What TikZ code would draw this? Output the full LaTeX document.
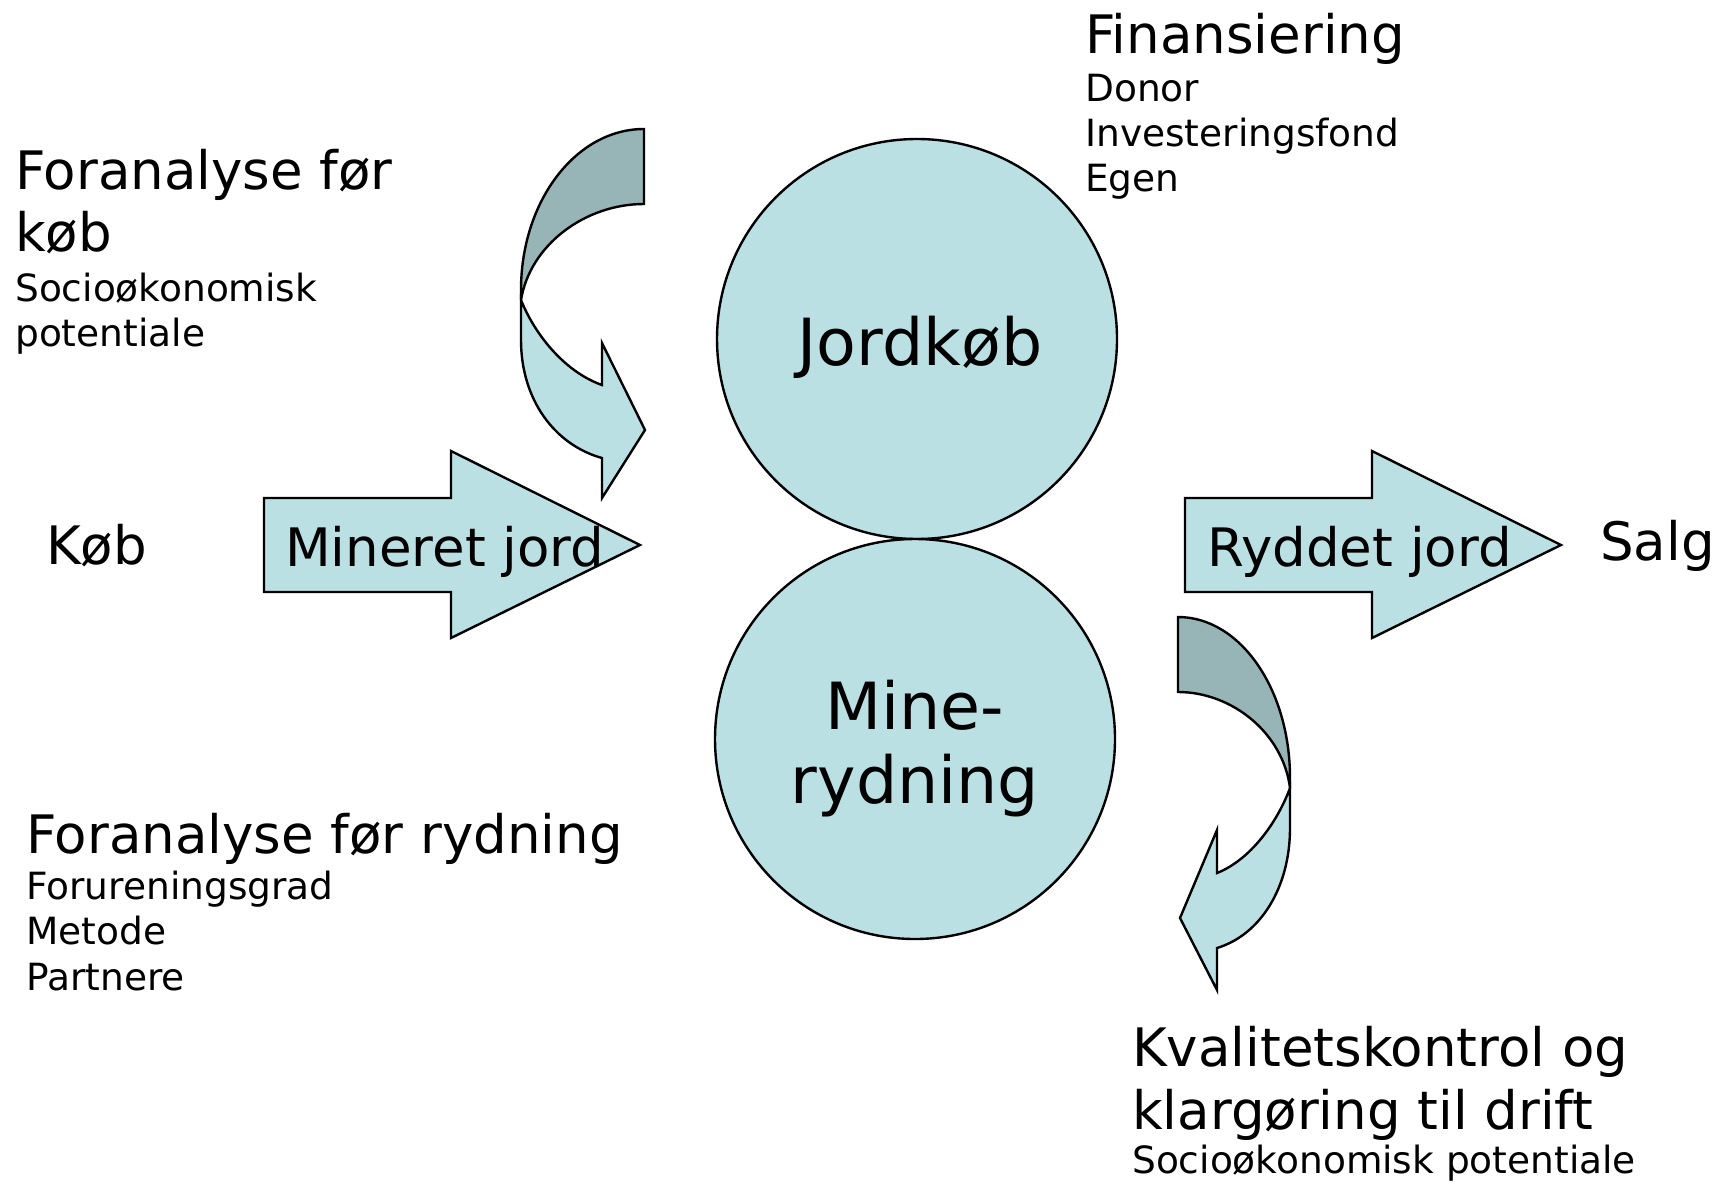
\documentclass[tikz,border=0pt]{standalone}
\usepackage{fontspec}
\setmainfont{DejaVu Sans}
\definecolor{ice}{HTML}{BBE0E3}
\definecolor{icedark}{HTML}{97B4B6}
\newcommand\fbig{\fontsize{53}{62}\selectfont}
\newcommand\fsmall{\fontsize{37.5}{45}\selectfont}
\newcommand\fcirc{\fontsize{65}{74}\selectfont}
\begin{document}
\begin{tikzpicture}[x=1pt,y=-1pt,
  outl/.style={draw=black, line width=2.4pt, line join=miter},
  light/.style={outl, fill=ice},
  dark/.style={outl, fill=icedark},
  lbl/.style={anchor=base west, inner sep=0pt, text=black},
  clbl/.style={anchor=base, inner sep=0pt, text=black},
  bubble/.style={circle, draw=black, line width=2.4pt, fill=ice, minimum size=400pt, inner sep=0pt}]
\fill[white] (0,0) rectangle (1724,1183);
\useasboundingbox (0,0) rectangle (1724,1183);

% curved arrow (top)
\draw[dark] (644,129) .. controls (576,129) and (521,201) .. (521,290) -- (521,300)
  .. controls (530,245) and (585,204) .. (644,204) -- cycle;
\draw[light] (521,300) -- (521,340) .. controls (521,400) and (555,445) .. (602,458)
  -- (602,498) -- (645,430) -- (602,343) -- (602,385)
  .. controls (565,372) and (535,335) .. (521,300) -- cycle;

% curved arrow (bottom)
\draw[dark] (1178,617) .. controls (1240,617) and (1290,689) .. (1290,778) -- (1290,788)
  .. controls (1283,733) and (1232,692) .. (1178,692) -- cycle;
\draw[light] (1290,788) -- (1290,828) .. controls (1290,888) and (1260,935) .. (1217,948)
  -- (1217,990) -- (1180,918) -- (1217,830) -- (1217,873)
  .. controls (1250,860) and (1277,823) .. (1290,788) -- cycle;

% straight block arrows
\draw[light] (264,498) -- (451,498) -- (451,451) -- (640,545) -- (451,638) -- (451,592) -- (264,592) -- cycle;
\draw[light] (1185,498) -- (1372,498) -- (1372,451) -- (1561,545) -- (1372,638) -- (1372,592) -- (1185,592) -- cycle;

% circles
\node[bubble] (jordkob) at (917,339) {};
\node[bubble] (minerydning) at (915,739) {};
\node[clbl, font=\fcirc] (tjord) at (920,365) {Jordkøb};
\node[clbl, font=\fcirc] (tmine1) at (915,729) {Mine-};
\node[clbl, font=\fcirc] (tmine2) at (915,803) {rydning};

% arrow texts
\node[lbl, font=\fbig] (tmineret) at (285,566) {Mineret jord};
\node[lbl, font=\fbig] (tryddet) at (1207,566) {Ryddet jord};
\node[lbl, font=\fbig] (tkob) at (46,564) {Køb};
\node[lbl, font=\fbig] (tsalg) at (1600,560) {Salg};

% Finansiering
\node[lbl, font=\fbig] (fin) at (1085,53) {Finansiering};
\node[lbl, font=\fsmall] (fin1) at (1085,101) {Donor};
\node[lbl, font=\fsmall] (fin2) at (1085,146) {Investeringsfond};
\node[lbl, font=\fsmall] (fin3) at (1085,191) {Egen};

% Foranalyse før køb
\node[lbl, font=\fbig] (fk1) at (15,189) {Foranalyse før};
\node[lbl, font=\fbig] (fk2) at (15,251) {køb};
\node[lbl, font=\fsmall] (fk3) at (15,301) {Socioøkonomisk};
\node[lbl, font=\fsmall] (fk4) at (15,346) {potentiale};

% Foranalyse før rydning
\node[lbl, font=\fbig] (fr1) at (26,853) {Foranalyse før rydning};
\node[lbl, font=\fsmall] (fr2) at (26,899) {Forureningsgrad};
\node[lbl, font=\fsmall] (fr3) at (26,944) {Metode};
\node[lbl, font=\fsmall] (fr4) at (26,990) {Partnere};

% Kvalitetskontrol
\node[lbl, font=\fbig] (kv1) at (1132,1066) {Kvalitetskontrol og};
\node[lbl, font=\fbig] (kv2) at (1132,1129) {klargøring til drift};
\node[lbl, font=\fsmall] (kv3) at (1132,1173) {Socioøkonomisk potentiale};
\end{tikzpicture}
\end{document}
